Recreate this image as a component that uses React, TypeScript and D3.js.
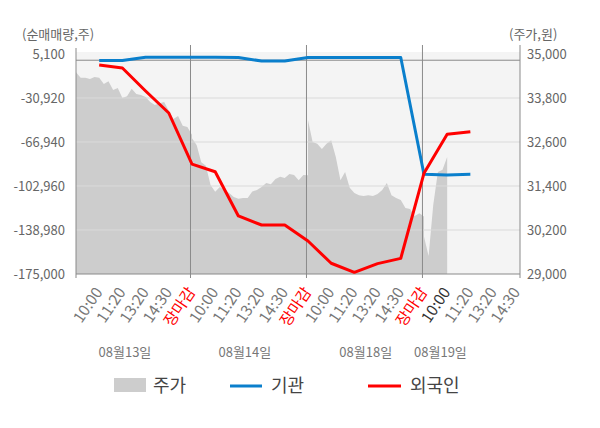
import * as d3 from 'd3'

const tickLabels = [
  '10:00', '11:20', '13:20', '14:30', '장마감',
  '10:00', '11:20', '13:20', '14:30', '장마감',
  '10:00', '11:20', '13:20', '14:30', '장마감',
  '10:00', '11:20', '13:20', '14:30',
]
const currentTick = 16
const dayLabels = ['08월13일', '08월14일', '08월18일', '08월19일']
const dayLabelAt = [2.11, 7.28, 12.49, 15.71]

const leftTicks = [5100, -30920, -66940, -102960, -138980, -175000]
const rightTicks = [35000, 33800, 32600, 31400, 30200, 29000]

// 기관 / 외국인: one value per tick, from 08/13 10:00 to 08/19 11:20
const institution = [
  -300, -300, 2500, 2500, 2500, 2500, 2300, -700, -700, 2300,
  2300, 2300, 2300, 2300, -93400, -93900, -93400,
]
const foreign = [
  -3900, -6400, -25200, -43200, -85000, -91300, -127500, -134900, -134900, -148000,
  -166200, -173600, -166500, -162200, -92600, -60600, -58500,
]

// 주가, sampled five times per tick interval
const priceDay1 = [
  34500, 34350, 34350, 34320, 34370, 34350, 34180, 34260, 34020, 34070, 33800, 33850, 34050,
  33910, 33880, 33830, 33690, 33610, 33660, 33690, 33450, 33230, 33310, 33040, 33010, 32800,
]
const priceDay2 = [
  32700, 32520, 32050, 31950, 31430, 31240, 31370, 31290, 31210, 31100, 31050, 31070, 31070,
  31250, 31290, 31370, 31480, 31450, 31590, 31650, 31620, 31730, 31700, 31560, 31700, 31690,
]
const priceDay3 = [
  33200, 32600, 32550, 32410, 32550, 32650, 32190, 31560, 31780, 31350, 31210, 31150, 31130,
  31150, 31130, 31180, 31290, 31480, 31150, 31070, 31020, 30800, 30770, 30580, 30660, 30570,
]
const priceDay4 = [30020, 29490, 30880, 31780, 31840, 32190]
const priceDays = [priceDay1, priceDay2, priceDay3, priceDay4]

const font = '"Noto Sans CJK KR", "Noto Sans", sans-serif'

export default function App() {
  const width = 600
  const height = 428
  const margin = { top: 54, right: 80, bottom: 154, left: 76 }
  const plotRight = width - margin.right
  const plotBottom = height - margin.bottom

  const x = d3.scaleLinear().domain([0, 19.14]).range([margin.left, plotRight])
  const yLeft = d3.scaleLinear().domain([-175000, 5100]).range([plotBottom, margin.top])
  const yRight = d3.scaleLinear().domain([29000, 35000]).range([plotBottom, margin.top])

  const pricePoints = priceDays.flatMap((values, day) =>
    values.map((value, i) => ({ t: day * 5 + i * 0.2, value })),
  )
  const area = d3
    .area<{ t: number; value: number }>()
    .x((p) => x(p.t))
    .y0(plotBottom)
    .y1((p) => yRight(p.value))

  const line = d3
    .line<number>()
    .x((_, i) => x(i + 1))
    .y((v) => yLeft(v))

  const separators = [5, 10, 15]
  const fmt = (v: number) => d3.format(',')(v).replace('−', '-')

  return (
    <svg
      width={width}
      height={height}
      style={{ position: 'absolute', left: 0, top: 0, fontFamily: font }}
    >
      <rect width={width} height={height} fill="#ffffff" />
      <rect
        x={margin.left}
        y={margin.top - 2}
        width={plotRight - margin.left}
        height={plotBottom - margin.top + 2}
        fill="#f4f4f4"
      />

      <path d={area(pricePoints) ?? ''} fill="#cdcdcd" />

      {leftTicks.slice(1, -1).map((tick) => (
        <line
          key={tick}
          x1={margin.left}
          x2={plotRight}
          y1={yLeft(tick)}
          y2={yLeft(tick)}
          stroke="#dadada"
          strokeWidth={1}
        />
      ))}

      <line x1={margin.left} x2={plotRight} y1={yLeft(0)} y2={yLeft(0)} stroke="#8a8a8a" />
      <line x1={margin.left} x2={plotRight} y1={plotBottom} y2={plotBottom} stroke="#8a8a8a" />
      <line x1={margin.left} x2={margin.left} y1={48} y2={plotBottom + 4} stroke="#8a8a8a" />
      <line x1={plotRight} x2={plotRight} y1={45} y2={plotBottom + 4} stroke="#8a8a8a" />
      {separators.map((s) => (
        <line key={s} x1={x(s) - 1.5} x2={x(s) - 1.5} y1={45} y2={plotBottom + 4} stroke="#8a8a8a" />
      ))}

      <path
        d={line(institution) ?? ''}
        fill="none"
        stroke="#0a7fcc"
        strokeWidth={3}
        strokeLinejoin="round"
      />
      <path
        d={line(foreign) ?? ''}
        fill="none"
        stroke="#ff0000"
        strokeWidth={3}
        strokeLinejoin="round"
      />

      <text x={22} y={39} fontSize={13} fill="#666">(순매매량,주)</text>
      <text x={509} y={39} fontSize={13} fill="#666">(주가,원)</text>

      {leftTicks.map((tick) => (
        <text
          key={tick}
          x={65}
          y={yLeft(tick)}
          dy="0.36em"
          textAnchor="end"
          fontSize={13}
          fill="#666"
        >
          {fmt(tick)}
        </text>
      ))}
      {rightTicks.map((tick) => (
        <text
          key={tick}
          x={527}
          y={yRight(tick)}
          dy="0.36em"
          fontSize={13}
          fill="#666"
        >
          {fmt(tick)}
        </text>
      ))}

      {tickLabels.map((label, i) => {
        const slot = i + 1
        const color = label === '장마감' ? '#ff0000' : slot === currentTick ? '#333' : '#777'
        return (
          <text
            key={slot}
            transform={`translate(${x(slot) + 4},${plotBottom + 18}) rotate(-56)`}
            textAnchor="end"
            fontSize={15.5}
            fill={color}
          >
            {label}
          </text>
        )
      })}

      {dayLabels.map((label, i) => (
        <text
          key={label}
          x={x(dayLabelAt[i])}
          y={357}
          textAnchor="middle"
          fontSize={13}
          fill="#777"
        >
          {label}
        </text>
      ))}

      <g fontSize={18} fill="#444">
        <rect x={114} y={378} width={32} height={14} fill="#cdcdcd" />
        <text x={153} y={392}>주가</text>
        <line x1={230} x2={262} y1={386} y2={386} stroke="#0a7fcc" strokeWidth={3} />
        <text x={271} y={392}>기관</text>
        <line x1={368} x2={401} y1={386} y2={386} stroke="#ff0000" strokeWidth={3} />
        <text x={410} y={392}>외국인</text>
      </g>
    </svg>
  )
}
